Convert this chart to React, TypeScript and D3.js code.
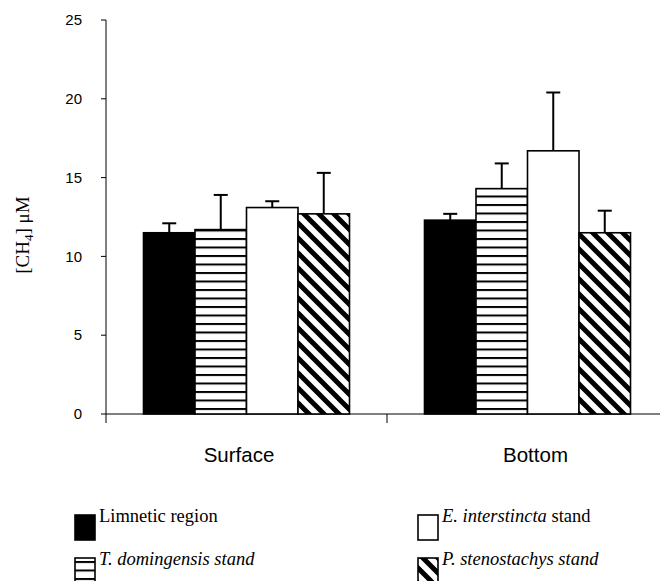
import React from "react";
import * as d3 from "d3";

const categories = ["Surface", "Bottom"];
const series = [
  "Limnetic region",
  "T. domingensis stand",
  "E. interstincta stand",
  "P. stenostachys stand",
];
const surfaceMean = [11.5, 11.7, 13.1, 12.7];
const surfaceErr = [0.6, 2.2, 0.4, 2.6];
const bottomMean = [12.3, 14.3, 16.7, 11.5];
const bottomErr = [0.4, 1.6, 3.7, 1.4];
const yTicks = [0, 5, 10, 15, 20, 25];

const W = 660;
const H = 581;
const fills = ["#000", "url(#hstripe)", "#fff", "url(#dstripe)"];
const labelShift = [-7.5, 8];

export default function App() {
  const y = d3.scaleLinear().domain([0, 25]).range([414, 20]);
  const x0 = d3.scaleBand<string>().domain(categories).range([106, 668]).padding(0);
  const x1 = d3
    .scaleBand<string>()
    .domain(series)
    .range([0, x0.bandwidth()])
    .paddingInner(0)
    .paddingOuter(0.728);
  const means = [surfaceMean, bottomMean];
  const errs = [surfaceErr, bottomErr];
  const bw = x1.bandwidth();
  const cap = 7;

  const legendItems = [
    { i: 0, x: 75, y: 515 },
    { i: 2, x: 418, y: 515 },
    { i: 1, x: 75, y: 558 },
    { i: 3, x: 418, y: 558 },
  ];

  const legendLabel = (i: number) => {
    if (i === 0) return <tspan>Limnetic region</tspan>;
    if (i === 1) return <tspan fontStyle="italic">T. domingensis stand</tspan>;
    if (i === 2)
      return (
        <>
          <tspan fontStyle="italic">E. interstincta</tspan>
          <tspan> stand</tspan>
        </>
      );
    return <tspan fontStyle="italic">P. stenostachys stand</tspan>;
  };

  return (
    <svg
      width={W}
      height={H}
      style={{ position: "absolute", left: 0, top: 0, background: "#fff" }}
    >
      <defs>
        <pattern id="hstripe" patternUnits="userSpaceOnUse" width={8} height={8.5}>
          <rect width={8} height={8.5} fill="#fff" />
          <line x1={0} x2={8} y1={1} y2={1} stroke="#000" strokeWidth={2} />
        </pattern>
        <pattern id="dstripe" patternUnits="userSpaceOnUse" width={15} height={15}>
          <rect width={15} height={15} fill="#fff" />
          <path
            d="M-7.5,-7.5 L22.5,22.5 M-15,0 L15,30 M0,-15 L30,15"
            stroke="#000"
            strokeWidth={5}
          />
        </pattern>
      </defs>
      <rect width={W} height={H} fill="#fff" />

      {/* y axis */}
      <line x1={106} x2={106} y1={y(25)} y2={y(0) + 9} stroke="#000" strokeWidth={1} />
      {yTicks.map((t) => (
        <g key={t}>
          <line x1={101} x2={106} y1={y(t)} y2={y(t)} stroke="#000" strokeWidth={1} />
          <text
            x={82}
            y={y(t)}
            dy="0.35em"
            textAnchor="end"
            fontFamily="Liberation Sans, Arial, sans-serif"
            fontSize={15}
          >
            {t}
          </text>
        </g>
      ))}

      {/* x axis */}
      <line x1={106} x2={668} y1={y(0)} y2={y(0)} stroke="#000" strokeWidth={1} />
      {categories.map((c) => (
        <line
          key={c}
          x1={(x0(c) as number) + x0.bandwidth()}
          x2={(x0(c) as number) + x0.bandwidth()}
          y1={y(0)}
          y2={y(0) + 9}
          stroke="#000"
          strokeWidth={1}
        />
      ))}

      {/* bars */}
      {categories.map((c, ci) => (
        <g key={c}>
          {series.map((s, si) => {
            const bx = (x0(c) as number) + (x1(s) as number);
            const v = means[ci][si];
            const top = y(v);
            const et = y(v + errs[ci][si]);
            const cx = bx + bw / 2;
            return (
              <g key={s}>
                <line x1={cx} x2={cx} y1={top} y2={et} stroke="#000" strokeWidth={2} />
                <line x1={cx - cap} x2={cx + cap} y1={et} y2={et} stroke="#000" strokeWidth={2} />
                <rect
                  x={bx}
                  y={top}
                  width={bw}
                  height={y(0) - top}
                  fill={fills[si]}
                  stroke="#000"
                  strokeWidth={1.6}
                />
              </g>
            );
          })}
          <text
            x={(x0(c) as number) + x0.bandwidth() / 2 + labelShift[ci]}
            y={462}
            textAnchor="middle"
            fontFamily="Liberation Sans, Arial, sans-serif"
            fontSize={20.5}
          >
            {c}
          </text>
        </g>
      ))}

      {/* y label */}
      <text
        transform="translate(29,235) rotate(-90)"
        textAnchor="middle"
        fontFamily="Liberation Serif, Times New Roman, serif"
        fontSize={19}
      >
        [CH<tspan fontSize={13} dy={4}>4</tspan>
        <tspan dy={-4}>] μM</tspan>
      </text>

      {/* legend */}
      {legendItems.map((it) => (
        <g key={it.i}>
          <rect
            x={it.x}
            y={it.y}
            width={20}
            height={25}
            fill={fills[it.i]}
            stroke="#000"
            strokeWidth={1.6}
          />
          <text
            x={it.x + 24}
            y={it.y + 7}
            fontFamily="Liberation Serif, Times New Roman, serif"
            fontSize={18.5}
          >
            {legendLabel(it.i)}
          </text>
        </g>
      ))}
    </svg>
  );
}
